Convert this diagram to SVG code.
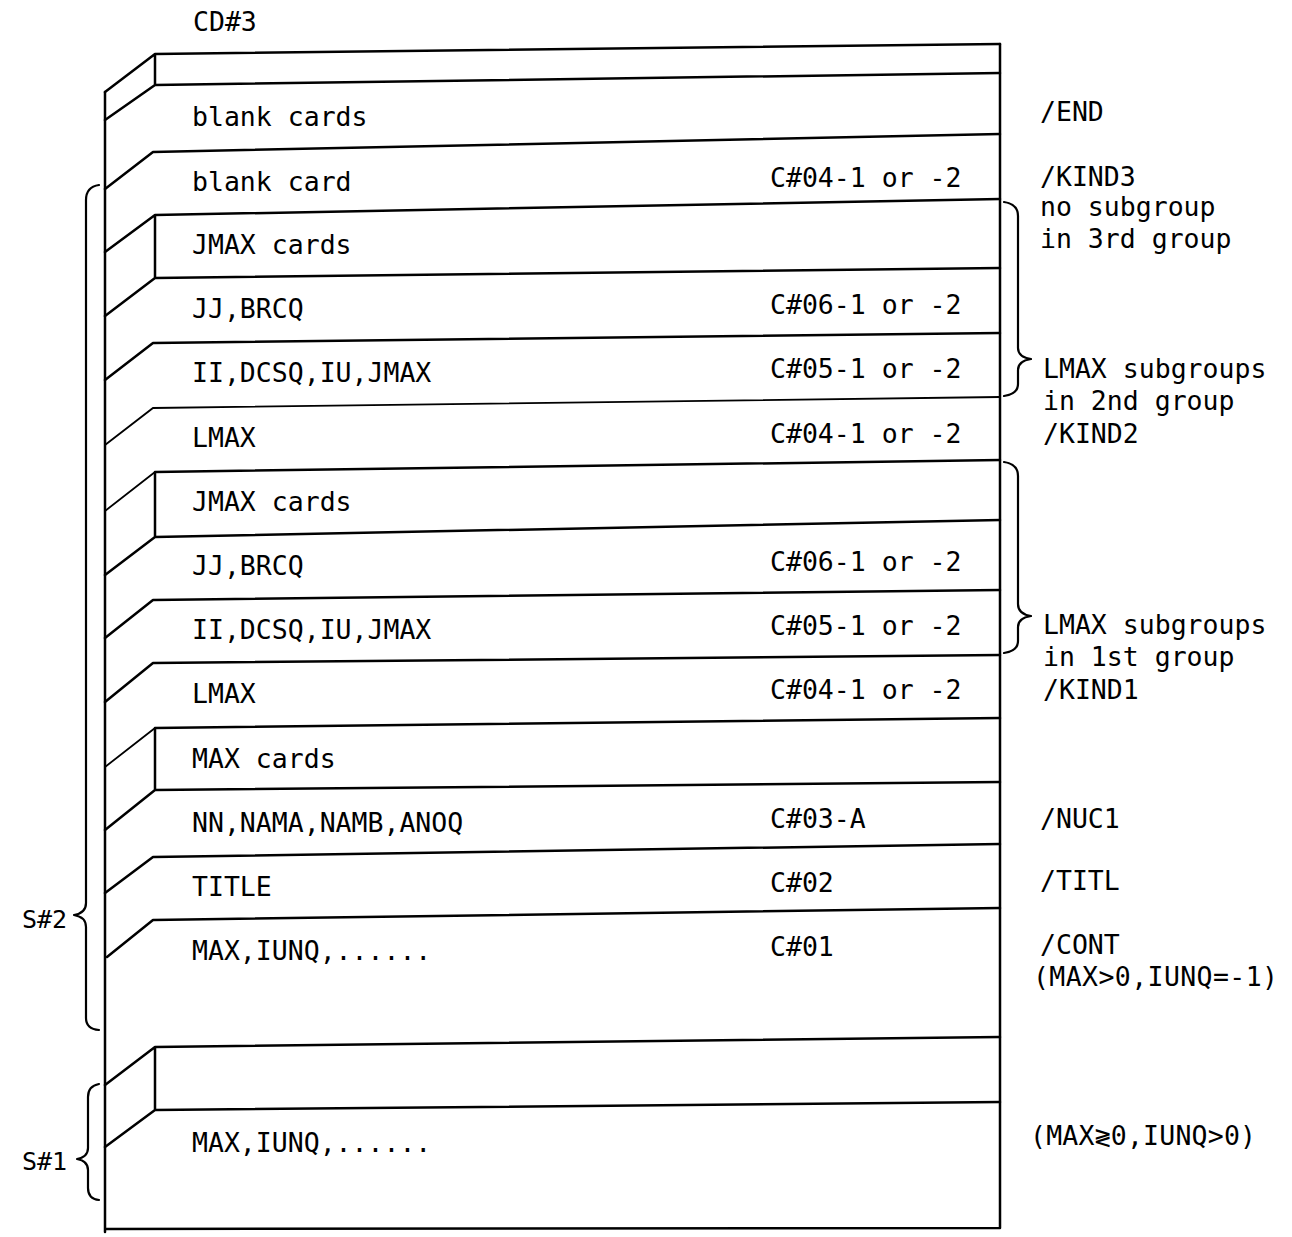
<svg xmlns="http://www.w3.org/2000/svg" width="1292" height="1237" viewBox="0 0 1292 1237">
<style>
.t{font-family:"DejaVu Sans Mono","Liberation Mono",monospace;font-size:26.5px;fill:#000}
.s{font-family:"DejaVu Sans Mono","Liberation Mono",monospace;font-size:25px;fill:#000}
.ln{stroke:#000;stroke-width:2.5;fill:none;stroke-linecap:round;stroke-linejoin:round}
.th{stroke:#000;stroke-width:1.8;fill:none;stroke-linecap:round}
.br{stroke:#000;stroke-width:2.2;fill:none;stroke-linecap:round;stroke-linejoin:round}
</style>
<rect width="1292" height="1237" fill="#fff"/>
<text class="t" x="193" y="31">CD#3</text>

<g id="deck-frame">
<path class="ln" d="M105 92 L105 1232 M105 1229 L1000 1228 M1000 44 L1000 1228"/>
</g>

<g id="card-top">
<path class="ln" d="M105 92 L155 54 L1000 44 M155 54 L155 85 L1000 73 M155 85 L105 120"/>
</g>
<g id="card-blank-cards">
<text class="t" x="192" y="126">blank cards</text>
<text class="t" x="1040" y="121">/END</text>
</g>
<g id="card-blank-card">
<path class="ln" d="M105 189 L153 152 L1000 134"/>
<text class="t" x="192" y="191">blank card</text>
<text class="t" x="770" y="187">C#04-1 or -2</text>
<text class="t" x="1040" y="186">/KIND3</text>
<text class="t" x="1040" y="216">no subgroup</text>
<text class="t" x="1040" y="248">in 3rd group</text>
</g>
<g id="card-jmax-3">
<path class="ln" d="M105 252 L155 215 L1000 199 M155 215 L155 278 L1000 268 M155 278 L105 316"/>
<text class="t" x="192" y="254">JMAX cards</text>
</g>
<g id="card-jj-3">
<text class="t" x="192" y="318">JJ,BRCQ</text>
<text class="t" x="770" y="314">C#06-1 or -2</text>
</g>
<g id="card-ii-3">
<path class="ln" d="M105 380 L153 343 L1000 333"/>
<text class="t" x="192" y="382">II,DCSQ,IU,JMAX</text>
<text class="t" x="770" y="378">C#05-1 or -2</text>
<text class="t" x="1043" y="378">LMAX subgroups</text>
<text class="t" x="1043" y="410">in 2nd group</text>
<text class="t" x="1043" y="443">/KIND2</text>
</g>
<g id="card-lmax-2">
<path class="th" d="M105 445 L153 408 L1000 397"/>
<text class="t" x="192" y="447">LMAX</text>
<text class="t" x="770" y="443">C#04-1 or -2</text>
</g>
<g id="card-jmax-2">
<path class="th" d="M105 511 L155 472"/>
<path class="ln" d="M155 472 L1000 460 M155 472 L155 537 L1000 520 M155 537 L105 575"/>
<text class="t" x="192" y="511">JMAX cards</text>
</g>
<g id="card-jj-2">
<text class="t" x="192" y="575">JJ,BRCQ</text>
<text class="t" x="770" y="571">C#06-1 or -2</text>
</g>
<g id="card-ii-2">
<path class="ln" d="M105 638 L153 600 L1000 590"/>
<text class="t" x="192" y="639">II,DCSQ,IU,JMAX</text>
<text class="t" x="770" y="635">C#05-1 or -2</text>
<text class="t" x="1043" y="634">LMAX subgroups</text>
<text class="t" x="1043" y="666">in 1st group</text>
<text class="t" x="1043" y="699">/KIND1</text>
</g>
<g id="card-lmax-1">
<path class="ln" d="M105 702 L153 663 L1000 655"/>
<text class="t" x="192" y="703">LMAX</text>
<text class="t" x="770" y="699">C#04-1 or -2</text>
</g>
<g id="card-max-cards">
<path class="th" d="M105 767 L155 728"/>
<path class="ln" d="M155 728 L1000 718 M155 728 L155 790 L1000 782 M155 790 L105 830"/>
<text class="t" x="192" y="768">MAX cards</text>
</g>
<g id="card-nn">
<text class="t" x="192" y="832">NN,NAMA,NAMB,ANOQ</text>
<text class="t" x="770" y="828">C#03-A</text>
<text class="t" x="1040" y="828">/NUC1</text>
</g>
<g id="card-title">
<path class="ln" d="M105 893 L153 857 L1000 844"/>
<text class="t" x="192" y="896">TITLE</text>
<text class="t" x="770" y="892">C#02</text>
<text class="t" x="1040" y="890">/TITL</text>
</g>
<g id="card-max-iunq-2">
<path class="ln" d="M107 957 L153 920 L1000 908"/>
<text class="t" x="192" y="960">MAX,IUNQ,......</text>
<text class="t" x="770" y="956">C#01</text>
<text class="t" x="1040" y="954">/CONT</text>
<text class="t" x="1033" y="986" textLength="245">(MAX&gt;0,IUNQ=-1)</text>
</g>
<g id="card-s1-top">
<path class="ln" d="M105 1085 L155 1047 L1000 1037 M155 1047 L155 1110 L1000 1102 M155 1110 L105 1147"/>
</g>
<g id="card-max-iunq-1">
<text class="t" x="192" y="1152">MAX,IUNQ,......</text>
<text class="t" x="1030" y="1145" textLength="226">(MAX≷0,IUNQ&gt;0)</text>
</g>

<g id="connectors">
<path class="br" d="M99 185 Q86 187 86 200 L86 903 Q86 913 74 915 Q86 917 86 927 L86 1018 Q86 1029 99 1030"/>
<path class="br" d="M99 1084 Q88 1086 88 1097 L88 1148 Q88 1157 77 1159 Q88 1161 88 1170 L88 1188 Q88 1199 99 1200"/>
<path class="br" d="M1004 202 Q1018 204 1018 216 L1018 348 Q1018 357 1031 359 Q1018 361 1018 370 L1018 384 Q1018 394 1004 396"/>
<path class="br" d="M1004 462 Q1018 464 1018 476 L1018 604 Q1018 614 1031 616 Q1018 618 1018 627 L1018 641 Q1018 651 1004 653"/>
</g>
<text class="s" x="22" y="928">S#2</text>
<text class="s" x="22" y="1170">S#1</text>
</svg>
